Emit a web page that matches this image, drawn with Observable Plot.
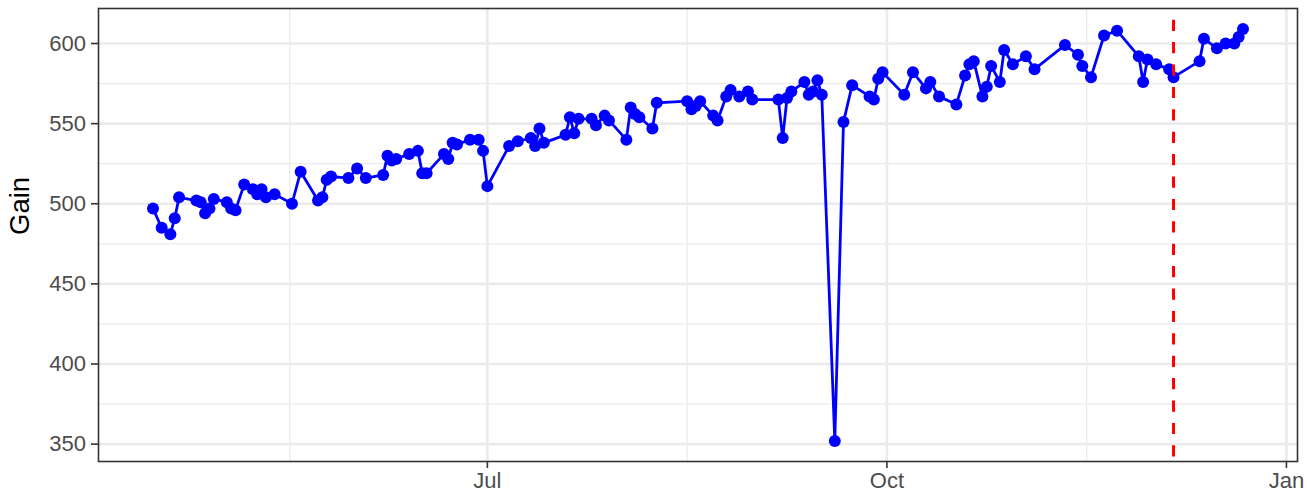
<!DOCTYPE html>
<html><head><meta charset="utf-8">
<script src="https://cdn.jsdelivr.net/npm/d3@7"></script>
<script src="https://cdn.jsdelivr.net/npm/@observablehq/plot@0.6"></script>
<style>body{margin:0;background:#fff;} #chart svg{display:block;}</style>
</head><body><div id="chart"></div>
<script>
const dates = [
"2023-04-15","2023-04-17","2023-04-19","2023-04-20","2023-04-21","2023-04-25","2023-04-26","2023-04-27","2023-04-28","2023-04-29",
"2023-05-02","2023-05-03","2023-05-04","2023-05-06","2023-05-08","2023-05-09","2023-05-10","2023-05-11","2023-05-13","2023-05-17",
"2023-05-19","2023-05-23","2023-05-24","2023-05-25","2023-05-26","2023-05-30","2023-06-01","2023-06-03","2023-06-07","2023-06-08",
"2023-06-09","2023-06-10","2023-06-13","2023-06-15","2023-06-16","2023-06-17","2023-06-21","2023-06-22","2023-06-23","2023-06-24",
"2023-06-27","2023-06-29","2023-06-30","2023-07-01","2023-07-06","2023-07-08","2023-07-11","2023-07-12","2023-07-13","2023-07-14",
"2023-07-19","2023-07-20","2023-07-21","2023-07-22","2023-07-25","2023-07-26","2023-07-28","2023-07-29","2023-08-02","2023-08-03",
"2023-08-04","2023-08-05","2023-08-08","2023-08-09","2023-08-16","2023-08-17","2023-08-18","2023-08-19","2023-08-22","2023-08-23",
"2023-08-25","2023-08-26","2023-08-28","2023-08-30","2023-08-31","2023-09-06","2023-09-07","2023-09-08","2023-09-09","2023-09-12",
"2023-09-13","2023-09-14","2023-09-15","2023-09-16","2023-09-19","2023-09-21","2023-09-23","2023-09-27","2023-09-28","2023-09-29",
"2023-09-30","2023-10-05","2023-10-07","2023-10-10","2023-10-11","2023-10-13","2023-10-17","2023-10-19","2023-10-20","2023-10-21",
"2023-10-23","2023-10-24","2023-10-25","2023-10-27","2023-10-28","2023-10-30","2023-11-02","2023-11-04","2023-11-11","2023-11-14",
"2023-11-15","2023-11-17","2023-11-20","2023-11-23","2023-11-28","2023-11-29","2023-11-30","2023-12-02","2023-12-05","2023-12-06",
"2023-12-12","2023-12-13","2023-12-16","2023-12-18","2023-12-20","2023-12-21","2023-12-22"];
const gains = [
497,485,481,491,504,502,501,494,497,503,
501,497,496,512,509,506,509,504,506,500,
520,502,504,515,517,516,522,516,518,530,
527,528,531,533,519,519,531,528,538,537,
540,540,533,511,536,539,541,536,547,538,
543,554,544,553,553,549,555,552,540,560,
556,554,547,563,564,559,561,564,555,552,
567,571,567,570,565,565,541,566,570,576,
568,570,577,568,352,551,574,567,565,578,
582,568,582,572,576,567,562,580,587,589,
567,573,586,576,596,587,592,584,599,593,
586,579,605,608,592,576,590,587,584,579,
589,603,597,600,600,604,609];
const cutoffDate = "2023-12-06";
const yTicks = [350, 400, 450, 500, 550, 600];
const yMinorTicks = [375, 425, 475, 525, 575];
const xTickDates = ["2023-07-01", "2023-10-01", "2024-01-01"];
const xTickLabels = ["Jul", "Oct", "Jan"];
const xMinorDates = ["2023-05-16T12:00Z", "2023-08-16", "2023-11-16"];
const yLabel = "Gain";

const data = dates.map((d, i) => ({date: new Date(d), gain: gains[i]}));
const xTicks = xTickDates.map(d => new Date(d));
const xMinor = xMinorDates.map(d => new Date(d));

const [x0, x1] = d3.extent(data, d => d.date);
const xpad = (x1 - x0) * 0.05;
const [y0, y1] = d3.extent(gains);
const ypad = (y1 - y0) * 0.05;
const fmtX = d => xTickLabels[xTicks.findIndex(t => +t === +d)];

const chart = Plot.plot({
  width: 1307,
  height: 497,
  marginLeft: 98,
  marginRight: 10,
  marginTop: 8,
  marginBottom: 36,
  style: {fontFamily: "'Liberation Sans', Arial, sans-serif", background: "white"},
  x: {type: "utc", domain: [new Date(+x0 - xpad), new Date(+x1 + xpad)]},
  y: {domain: [y0 - ypad, y1 + ypad]},
  marks: [
    Plot.ruleY(yMinorTicks, {stroke: "#EBEBEB", strokeWidth: 1.3}),
    Plot.ruleX(xMinor, {stroke: "#EBEBEB", strokeWidth: 1.3}),
    Plot.ruleY(yTicks, {stroke: "#EBEBEB", strokeWidth: 2.6}),
    Plot.ruleX(xTicks.filter(t => t <= +x1 + xpad), {stroke: "#EBEBEB", strokeWidth: 2.6}),
    Plot.line(data, {x: "date", y: "gain", stroke: "blue", strokeWidth: 2.8}),
    Plot.dot(data, {x: "date", y: "gain", r: 6, fill: "blue", stroke: "none"}),
    Plot.ruleX([new Date(cutoffDate)], {stroke: "red", strokeWidth: 3, strokeDasharray: "11.2,11.2", strokeDashoffset: 10.7}),
    Plot.frame({stroke: "#333", strokeWidth: 1.6}),
    Plot.axisY(yTicks, {tickSize: 7, strokeWidth: 1.6, color: "#333", tickFormat: () => "", label: null}),
    Plot.axisY(yTicks, {tickSize: 0, tickPadding: 12.5, color: "#4D4D4D", fontSize: 22, label: null}),
    Plot.axisX(xTicks, {tickSize: 7, strokeWidth: 1.6, color: "#333", tickFormat: () => "", label: null}),
    Plot.axisX(xTicks, {tickSize: 0, tickPadding: 11, color: "#4D4D4D", fontSize: 22, tickFormat: fmtX, label: null}),
    Plot.text([yLabel], {frameAnchor: "left", rotate: -90, dx: -78, fontSize: 27.5, fill: "black", text: d => d})
  ]
});
document.getElementById("chart").appendChild(chart);
</script>
</body></html>
